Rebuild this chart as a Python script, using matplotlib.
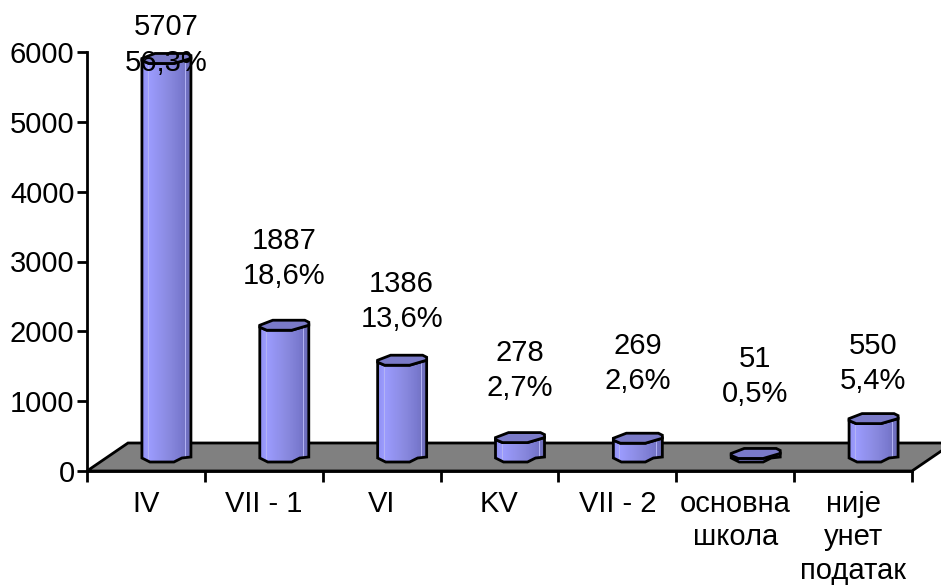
import matplotlib
matplotlib.use('Agg')
import matplotlib.pyplot as plt
import numpy as np
from matplotlib.colors import LinearSegmentedColormap
from matplotlib.patches import Polygon

plt.rcParams['font.family'] = ['Liberation Sans', 'DejaVu Sans']

categories = ['IV', 'VII - 1', 'VI', 'KV', 'VII - 2', 'основна\nшкола', 'није\nунет\nподатак']
counts = [5707, 1887, 1386, 278, 269, 51, 550]
shares = ['56,3%', '18,6%', '13,6%', '2,7%', '2,6%', '0,5%', '5,4%']
yticks = [0, 1000, 2000, 3000, 4000, 5000, 6000]

# label heights on the y scale, the original places them by hand
label_y = [6100, 3040, 2425, 1435, 1535, 1350, 1535]

W, H = 941, 585
L, R, B, T = 87, 912, 471, 52
fig = plt.figure(figsize=(W / 100, H / 100), dpi=100)
ax = fig.add_axes([L / W, 1 - B / H, (R - L) / W, (B - T) / H])

# pixel sizes in data units, the bar shape is described in pixels
px = 7 / (R - L)
py = 6000 / (B - T)

FS = 21

# floor
floor = Polygon([(0, 0), (7, 0), (7 + 41 * px, 28 * py), (41 * px, 28 * py)],
                fc='#808080', ec='black', lw=2, clip_on=False, zorder=1)
ax.add_patch(floor)

cmap = LinearSegmentedColormap.from_list(
    'bar', [(0, '#8e8ef0'), (0.14, '#9c9cff'), (0.55, '#8a8ae0'), (0.8, '#7a7ad0'), (1, '#6c6cb8')])
grad = np.linspace(0, 1, 64).reshape(1, -1)

top_shape = [(-24, 5), (-11, 10), (21, 10), (25, 8), (25, 5), (8, 0), (-17, 0), (-24, 3)]
base_shape = [(-24, 4), (-16, 0), (8, 0), (16, 4), (25, 5)]
base = 9 * py

for i, v in enumerate(counts):
    cx = i + 0.5 + 20 * px
    y0 = base
    y1 = base + v
    body = [(cx + a * px, y0 + b * py) for a, b in base_shape]
    body += [(cx + 25 * px, y1 + 5 * py), (cx + 8 * px, y1), (cx - 17 * px, y1), (cx - 24 * px, y1 + 3 * py)]
    outline = Polygon(body, fc='none', ec='black', lw=2, zorder=4, clip_on=False)
    clip = Polygon(body, transform=ax.transData, fc='none', ec='none')
    ax.add_patch(clip)
    im = ax.imshow(grad, cmap=cmap, aspect='auto', interpolation='bilinear', zorder=3,
                   extent=[cx - 25 * px, cx + 25 * px, y0 - 2 * py, y1 + 8 * py])
    im.set_clip_path(clip)
    for frac in (-18, 19):
        ln, = ax.plot([cx + frac * px] * 2, [y0, y1 + 4 * py], color='#b4b4f4', lw=0.7, zorder=3)
        ln.set_clip_path(clip)
    ax.add_patch(outline)
    cap = [(cx + a * px, y1 + b * py) for a, b in top_shape]
    ax.add_patch(Polygon(cap, fc='#7a7ac8', ec='black', lw=2, zorder=5, clip_on=False))
    ax.text(cx, label_y[i], f'{v}\n{shares[i]}', ha='center', va='center', fontsize=FS,
            linespacing=1.32, zorder=6, clip_on=False)

ax.set_xlim(0, 7)
ax.set_ylim(0, 6000)
ax.set_yticks(yticks)
ax.set_xticks(range(8))
ax.set_xticklabels([])
ax.tick_params(axis='y', length=7, width=2, labelsize=FS, pad=2)
ax.tick_params(axis='x', length=8, width=2)
for s in ('top', 'right'):
    ax.spines[s].set_visible(False)
for s in ('left', 'bottom'):
    ax.spines[s].set_linewidth(2)

for i, name in enumerate(categories):
    ax.text(i + 0.5, -265, name, ha='center', va='top', fontsize=FS, linespacing=1.27, clip_on=False)

fig.savefig('out.png', dpi=100)
